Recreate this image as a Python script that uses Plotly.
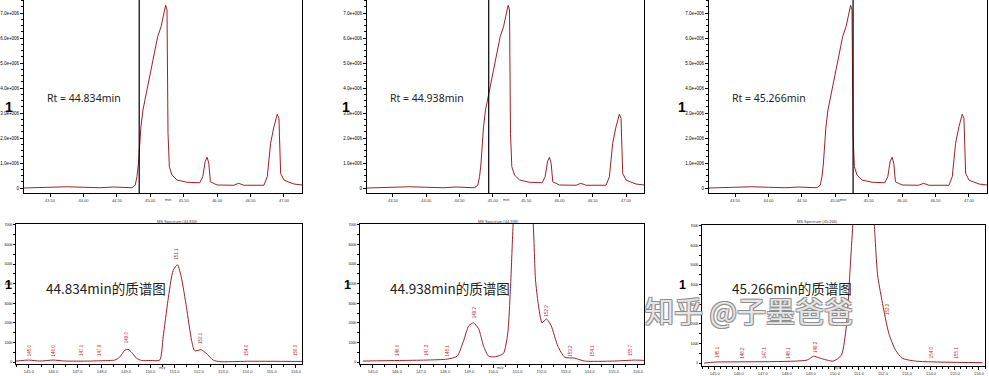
import plotly.graph_objects as go

W, H = 989, 376

# ---------------- data ----------------
# total ion chromatogram (time in min, intensity in 1e6 counts)
tic_time = [43.11, 43.30, 43.75, 44.00, 44.25, 44.45, 44.725, 44.775, 44.80, 44.82, 44.84,
            44.86, 44.89, 44.95, 45.01, 45.06, 45.11, 45.16, 45.20, 45.23, 45.25, 45.265,
            45.285, 45.325, 45.40, 45.55, 45.74, 45.785, 45.82, 45.85, 45.875, 45.90, 46.00,
            46.25, 46.32, 46.40, 46.70, 46.75, 46.80, 46.85, 46.90, 46.925, 46.95, 47.00,
            47.06, 47.15, 47.27]
tic_int = [0.00, 0.01, 0.05, 0.03, 0.01, 0.04, 0.01, 0.12, 0.45, 0.92, 1.65,
           2.45, 3.12, 3.92, 4.65, 5.32, 6.05, 6.45, 6.99, 7.31, 7.12, 2.19,
           0.85, 0.52, 0.32, 0.23, 0.21, 0.45, 1.05, 1.23, 0.99, 0.25, 0.12,
           0.11, 0.19, 0.11, 0.11, 0.45, 1.79, 2.45, 2.95, 2.79, 0.59, 0.32,
           0.25, 0.16, 0.12]
rt_values = [44.834, 44.938, 45.266]
rt_labels = ["Rt = 44.834min", "Rt = 44.938min", "Rt = 45.266min"]
ms_labels = ["44.834min的质谱图", "44.938min的质谱图", "45.266min的质谱图"]
time_ticks = [43.5, 44.0, 44.5, 45.0, 45.5, 46.0, 46.5, 47.0]
time_ticktext = ["43.50", "44.00", "44.50", "45.00", "45.50", "46.00", "46.50", "47.00"]
int_ticks = [0, 1, 2, 3, 4, 5, 6, 7]
int_ticktext = ["0", "1.0e+006", "2.0e+006", "3.0e+006", "4.0e+006", "5.0e+006", "6.0e+006", "7.0e+006"]

# mass spectra (m/z, intensity)
mz_ticks = [145, 146, 147, 148, 149, 150, 151, 152, 153, 154, 155, 156]
mz_ticktext = ["145.0", "146.0", "147.0", "148.0", "149.0", "150.0", "151.0", "152.0",
               "153.0", "154.0", "155.0", "156.0"]
ms_int_ticks = [0, 1, 2, 3, 4, 5, 6, 7]
ms_int_ticktext = ["0", "1000", "2000", "3000", "4000", "5000", "6000", "7000"]

ms1_mz = [144.47, 145.0, 145.45, 146.0, 146.5, 147.5, 148.3, 148.54, 148.74, 148.95, 149.09,
          149.23, 149.43, 149.64, 150.0, 150.39, 150.53, 150.73, 150.94, 151.12, 151.28,
          151.49, 151.70, 151.83, 152.10, 152.31, 152.59, 152.87, 154.0, 156.25]
ms1_int = [0.05, 0.10, 0.05, 0.10, 0.05, 0.05, 0.08, 0.10, 0.25, 0.60, 0.65,
           0.50, 0.20, 0.08, 0.08, 0.10, 1.28, 3.15, 4.67, 4.97, 4.33,
           2.80, 1.12, 0.57, 0.63, 0.44, 0.10, 0.02, 0.04, 0.03]
ms1_lab_mz = [145.0, 146.0, 147.14, 147.92, 149.03, 151.08, 152.07, 153.97, 155.99]
ms1_lab_int = [0.6, 0.6, 0.6, 0.6, 1.25, 5.55, 1.2, 0.6, 0.6]
ms1_lab_txt = ["145.0", "146.0", "147.1", "147.9", "149.0", "151.1", "152.1", "154.0", "156.0"]

ms2_mz = [144.59, 146.1, 147.2, 148.09, 148.5, 148.77, 148.98, 149.18, 149.39, 149.6, 149.8,
          150.08, 150.42, 150.6, 150.72, 150.83, 151.24, 151.65, 151.75, 151.86, 152.02,
          152.2, 152.4, 152.68, 152.96, 153.37, 153.78, 155.0, 155.9, 156.29]
ms2_int = [0.05, 0.08, 0.10, 0.15, 0.30, 1.10, 1.85, 2.00, 1.70, 0.80, 0.30,
           0.27, 0.44, 1.50, 4.00, 7.20, 14.0, 7.20, 4.20, 3.00, 2.00,
           2.20, 1.85, 0.80, 0.25, 0.20, 0.05, 0.05, 0.10, 0.08]
ms2_lab_mz = [146.03, 147.2, 148.09, 149.2, 152.2, 153.2, 154.1, 155.7]
ms2_lab_int = [0.6, 0.6, 0.6, 2.55, 2.65, 0.6, 0.6, 0.6]
ms2_lab_txt = ["146.0", "147.2", "148.1", "149.2", "152.2", "153.2", "154.1", "155.7"]

ms3_mz = [144.56, 145.0, 148.84, 149.11, 149.39, 149.93, 150.27, 150.48, 150.64, 150.75,
          151.2, 151.64, 151.78, 151.96, 152.25, 152.53, 152.8, 153.35, 156.15]
ms3_int = [0.00, 0.05, 0.15, 0.35, 0.25, 0.10, 0.40, 1.90, 4.90, 7.10,
           15.0, 7.10, 4.50, 3.20, 1.50, 0.65, 0.25, 0.10, 0.02]
ms3_lab_mz = [145.12, 146.15, 147.05, 148.07, 149.2, 152.2, 154.0, 155.05]
ms3_lab_int = [0.55, 0.55, 0.55, 0.55, 0.8, 2.75, 0.55, 0.55]
ms3_lab_txt = ["145.1", "146.2", "147.1", "148.1", "149.2", "152.2", "154.0", "155.1"]

# ---------------- layout helpers ----------------
def px_x(x):
    return x / W

def px_y(y):
    return 1 - y / H

LINE = "#9B2226"
TINY = dict(size=4, color="#333333", family="Liberation Sans")
TINY_Y = dict(size=4.5, color="#000000", family="Liberation Sans")

top_boxes = [(24, 302), (367, 644), (709, 987)]
bot_boxes = [(16, 302, 224, 364), (360, 644, 224, 364), (702, 985, 225, 366)]
ms_data = [(ms1_mz, ms1_int, ms1_lab_mz, ms1_lab_int, ms1_lab_txt),
           (ms2_mz, ms2_int, ms2_lab_mz, ms2_lab_int, ms2_lab_txt),
           (ms3_mz, ms3_int, ms3_lab_mz, ms3_lab_int, ms3_lab_txt)]

fig = go.Figure()
layout = dict(width=W, height=H, margin=dict(l=0, r=0, t=0, b=0),
              paper_bgcolor="white", plot_bgcolor="white", showlegend=False)
annotations = []
shapes = []

axis_common = dict(showline=True, mirror=True, linecolor="black", linewidth=1,
                   showgrid=False, zeroline=False, ticks="outside", tickcolor="black",
                   tickfont=TINY)
ONE_FONT = dict(size=14, color="black", family="Liberation Sans Narrow, Liberation Sans", weight="bold")
ONE_FONT_B = dict(size=12.5, color="black", family="Liberation Sans Narrow, Liberation Sans", weight="bold")

for i in range(3):
    n = i + 1
    xa = "x" if n == 1 else f"x{n}"
    ya = "y" if n == 1 else f"y{n}"
    x0, x1 = top_boxes[i]
    fig.add_trace(go.Scatter(x=tic_time, y=tic_int, mode="lines", xaxis=xa, yaxis=ya,
                             line=dict(color=LINE, width=1)))
    layout["xaxis" if n == 1 else f"xaxis{n}"] = dict(
        axis_common, domain=[px_x(x0), px_x(x1)], anchor=ya, range=[43.11, 47.27],
        tickvals=time_ticks, ticktext=time_ticktext, ticklen=3)
    layout["yaxis" if n == 1 else f"yaxis{n}"] = dict(
        axis_common, domain=[px_y(193), 1.0], anchor=xa, range=[-0.2, 7.52],
        tickvals=int_ticks, ticktext=int_ticktext, ticklen=3, tickfont=TINY_Y,
        minor=dict(ticks="outside", ticklen=2, dtick=0.25, tickcolor="black"))
    shapes.append(dict(type="line", xref=xa, yref=f"{ya} domain", x0=rt_values[i], x1=rt_values[i],
                       y0=0, y1=1, line=dict(color="black", width=1.2)))
    annotations.append(dict(x=px_x(x0 + 21), y=px_y(98), xref="paper", yref="paper",
                            text=rt_labels[i], showarrow=False, xanchor="left", yanchor="middle",
                            font=dict(size=10.5, color="#222222", family="Noto Sans")))
    annotations.append(dict(x=px_x(x0 - 21), y=px_y(97), xref="paper", yref="paper", text="1",
                            showarrow=False, font=ONE_FONT))
    annotations.append(dict(x=px_x((x0 + x1) / 2), y=px_y(199), xref="paper", yref="paper", text="min",
                            showarrow=False, font=TINY))

for i in range(3):
    n = i + 4
    xa, ya = f"x{n}", f"y{n}"
    x0, x1, y0, y1 = bot_boxes[i]
    mz, inten, lmz, lint, ltxt = ms_data[i]
    fig.add_trace(go.Scatter(x=mz, y=inten, mode="lines", xaxis=xa, yaxis=ya,
                             line=dict(color=LINE, width=1, shape="spline", smoothing=0.6)))
    ybot = -0.1 if i < 2 else -0.15
    layout[f"xaxis{n}"] = dict(
        axis_common, domain=[px_x(x0), px_x(x1)], anchor=ya, range=[144.47, 156.25],
        tickvals=mz_ticks, ticktext=mz_ticktext, ticklen=3,
        minor=dict(ticks="outside", ticklen=2, dtick=0.25 if i == 2 else 0.5, tickcolor="black"))
    layout[f"yaxis{n}"] = dict(
        axis_common, domain=[px_y(y1), px_y(y0)], anchor=xa, range=[ybot, 7.05],
        tickvals=ms_int_ticks, ticktext=ms_int_ticktext, ticklen=2,
        tickfont=dict(size=3.5, color="#000000", family="Liberation Sans"),
        minor=dict(ticks="outside", ticklen=2, dtick=0.5, tickcolor="black"))
    for xm, yv, tx in zip(lmz, lint, ltxt):
        annotations.append(dict(x=xm, y=yv, xref=xa, yref=ya, text=tx, showarrow=False,
                                textangle=-90, font=dict(size=4.5, color="#C0282D", family="Liberation Sans")))
    annotations.append(dict(x=px_x(x0 + 28), y=px_y(288), xref="paper", yref="paper",
                            text=ms_labels[i], showarrow=False, xanchor="left", yanchor="middle",
                            font=dict(size=13.5, color="#222222", family="Noto Sans CJK SC")))
    annotations.append(dict(x=px_x(x0 - 13 if i < 2 else x0 - 14), y=px_y(293.5), xref="paper", yref="paper",
                            text="1", showarrow=False, font=ONE_FONT_B))
    annotations.append(dict(x=px_x((x0 + x1) / 2 - 4), y=px_y(221), xref="paper", yref="paper",
                            text=f"MS Spectrum ({rt_values[i]:.3f})", showarrow=False, font=TINY))
    annotations.append(dict(x=px_x((x0 + x1) / 2 - 2), y=px_y(372), xref="paper", yref="paper",
                            text="m/z", showarrow=False, font=TINY))

annotations.append(dict(x=px_x(855), y=px_y(333), xref="paper", yref="paper",
                        text="知乎 @子墨爸爸", showarrow=False,
                        font=dict(size=29, color="rgba(236,236,236,0.95)", family="Noto Sans CJK SC",
                                  shadow="1px 1px 0 #8f8f8f, -1px -1px 0 #8f8f8f, 1px -1px 0 #8f8f8f, -1px 1px 0 #8f8f8f")))

layout["annotations"] = annotations
layout["shapes"] = shapes
fig.update_layout(**layout)
fig.write_html("out.html")
